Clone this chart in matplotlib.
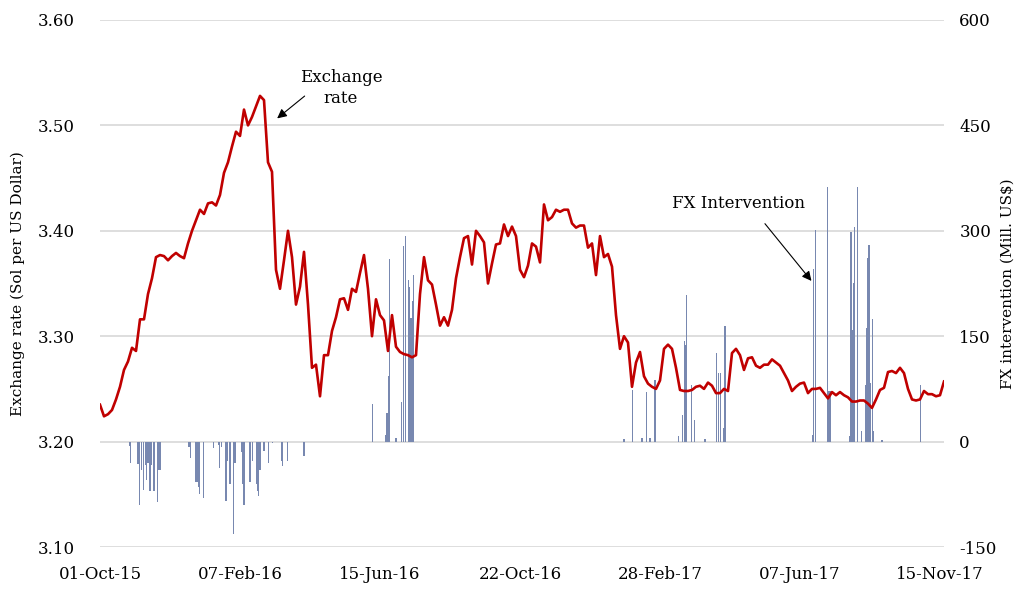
import matplotlib
matplotlib.use('agg')
from matplotlib import pyplot as plt
import numpy as np

# exchange rate (Sol per US$), one reading every few trading days
rate = [
    3.235, 3.224, 3.226, 3.230, 3.240, 3.252, 3.268, 3.276, 3.289, 3.286,
    3.316, 3.316, 3.340, 3.355, 3.375, 3.377, 3.376, 3.372, 3.376, 3.379,
    3.376, 3.374, 3.388, 3.400, 3.410, 3.420, 3.416, 3.426, 3.427, 3.424,
    3.434, 3.455, 3.465, 3.480, 3.494, 3.490, 3.515, 3.500, 3.508, 3.518,
    3.528, 3.524, 3.465, 3.456, 3.363, 3.345, 3.372, 3.400, 3.375, 3.330,
    3.347, 3.380, 3.330, 3.270, 3.273, 3.243, 3.282, 3.282, 3.305, 3.318,
    3.335, 3.336, 3.325, 3.345, 3.342, 3.360, 3.377, 3.345, 3.300, 3.335,
    3.320, 3.315, 3.286, 3.320, 3.290, 3.285, 3.283, 3.282, 3.280, 3.282,
    3.340, 3.375, 3.353, 3.349, 3.330, 3.310, 3.318, 3.310, 3.325, 3.355,
    3.375, 3.393, 3.395, 3.368, 3.400, 3.395, 3.389, 3.350, 3.369, 3.387,
    3.388, 3.406, 3.395, 3.404, 3.395, 3.363, 3.356, 3.367, 3.388, 3.385,
    3.370, 3.425, 3.410, 3.413, 3.420, 3.418, 3.420, 3.420, 3.407, 3.403,
    3.405, 3.405, 3.384, 3.388, 3.358, 3.395, 3.375, 3.378, 3.366, 3.320,
    3.288, 3.300, 3.294, 3.252, 3.275, 3.285, 3.262, 3.255, 3.252, 3.250,
    3.258, 3.288, 3.292, 3.288, 3.270, 3.249, 3.248, 3.248, 3.249, 3.252,
    3.253, 3.250, 3.256, 3.253, 3.246, 3.246, 3.250, 3.248, 3.284, 3.288,
    3.282, 3.268, 3.279, 3.280, 3.272, 3.270, 3.273, 3.273, 3.278, 3.275,
    3.272, 3.265, 3.258, 3.248, 3.252, 3.255, 3.256, 3.246, 3.250, 3.250,
    3.251, 3.246, 3.241, 3.247, 3.244, 3.247, 3.244, 3.242, 3.238, 3.238,
    3.239, 3.239, 3.236, 3.232, 3.240, 3.249, 3.251, 3.266, 3.267, 3.265,
    3.270, 3.265, 3.250, 3.240, 3.239, 3.240, 3.248, 3.245, 3.245, 3.243,
    3.244, 3.257,
]

# FX intervention (Mill. US$): position on the same axis, amount
fx_pos = [
    7.3, 7.6, 9.5, 9.8, 10.4, 10.8, 11.4, 11.7, 12.0, 12.5, 12.9, 13.5, 14.3,
    14.6, 15.0, 22.25, 22.6, 24.0, 24.4, 24.6, 24.8, 25.8, 28.3, 29.6, 29.8,
    30.4, 31.5, 31.8, 32.5, 33.3, 33.75, 35.4, 35.7, 36.0, 37.5, 38.2, 39.2,
    39.4, 39.6, 39.8, 40.0, 41.0, 42.1, 43.2, 45.4, 45.7, 46.8, 51.0,
    68.2, 71.5, 71.75, 72.1, 72.3, 74.0, 75.4, 75.9, 76.3, 77.1, 77.3, 77.6,
    77.8, 78.1, 78.3, 131.0, 133.1, 135.5, 136.7, 137.5, 138.75, 144.6, 145.6,
    146.1, 146.4, 146.7, 147.9, 148.6, 151.25, 154.2, 154.6, 155.1, 155.8,
    156.25, 178.1, 178.3, 178.9, 181.8, 182.1, 182.5, 187.5, 187.75, 188.1,
    188.3, 188.6, 189.3, 190.4, 191.4, 191.7, 191.9, 192.25, 192.6, 193.1,
    193.4, 195.5, 205.1,
]
fx_val = [
    -6, -30, -32, -90, -40, -69, -33, -55, -30, -70, -33, -70, -86,
    -40, -40, -8, -23, -58, -58, -65, -74, -80, -9, -5, -37,
    -8, -85, -28, -60, -131, -30, -15, -60, -90, -57, -28, -60,
    -70, -78, -40, -40, -14, -30, -2, -28, -35, -28, -21,
    54, 10, 41, 93, 260, 5, 57, 279, 292, 230, 220, 176,
    176, 200, 237, 4, 74, 5, 70, 5, 88, 8, 38,
    143, 138, 209, 80, 31, 3, 126, 98, 98, 20,
    165, 10, 245, 301, 362, 72, 72, 8, 299, 159,
    226, 305, 363, 15, 81, 162, 261, 280, 83, 174,
    15, 2, 81,
]

tick_pos = [0, 35, 70, 105, 140, 175, 210]
tick_lab = ['01-Oct-15', '07-Feb-16', '15-Jun-16', '22-Oct-16',
            '28-Feb-17', '07-Jun-17', '15-Nov-17']

plt.rcParams['font.family'] = 'DejaVu Serif'
plt.rcParams['font.size'] = 12
plt.rcParams['axes.unicode_minus'] = False

fig = plt.figure(figsize=(10.22, 5.92), dpi=100)
ax = fig.add_axes([100/1022, 1-547/592, 844/1022, 527/592])
ax2 = ax.twinx()

# bars (right axis) sit behind the exchange-rate line
ax2.bar(fx_pos, fx_val, width=0.3, color='#7888b0', linewidth=0)
ax2.set_ylim(-150, 600)
ax2.set_yticks([-150, 0, 150, 300, 450, 600])
ax2.yaxis.grid(True, color='#dedede', lw=1.4)
ax2.set_axisbelow(True)
ax2.set_ylabel('FX intervention (Mill. US$)', fontsize=11, labelpad=3)

ax.set_zorder(ax2.get_zorder() + 1)
ax.patch.set_visible(False)
ax.plot(np.arange(len(rate)), rate, color='#c00000', lw=1.9, solid_joinstyle='round')
ax.set_ylim(3.10, 3.60)
ax.set_yticks([3.10, 3.20, 3.30, 3.40, 3.50, 3.60])
ax.set_yticklabels(['%.2f' % v for v in [3.10, 3.20, 3.30, 3.40, 3.50, 3.60]])
ax.set_xlim(0, len(rate) - 1)
ax.set_xticks(tick_pos)
ax.set_xticklabels(tick_lab)
ax.set_ylabel('Exchange rate (Sol per US Dollar)', fontsize=11, labelpad=9)

for a in (ax, ax2):
    for s in a.spines.values():
        s.set_visible(False)
    a.tick_params(length=0)
ax.tick_params(axis='y', pad=18)
ax.tick_params(axis='x', pad=14)
ax2.tick_params(axis='y', pad=11)

arrow = dict(arrowstyle='-|>', color='black', lw=0.8, mutation_scale=14)
ax.text(60.25, 3.5355, 'Exchange\nrate', ha='center', va='center', linespacing=1.3)
ax.annotate('', xy=(43.75, 3.505), xytext=(51.7, 3.5295), arrowprops=arrow)
ax.text(159.5, 3.4256, 'FX Intervention', ha='center', va='center')
ax.annotate('', xy=(178.3, 3.3504), xytext=(165.8, 3.4088), arrowprops=arrow)

fig.savefig('out.png', dpi=100)
